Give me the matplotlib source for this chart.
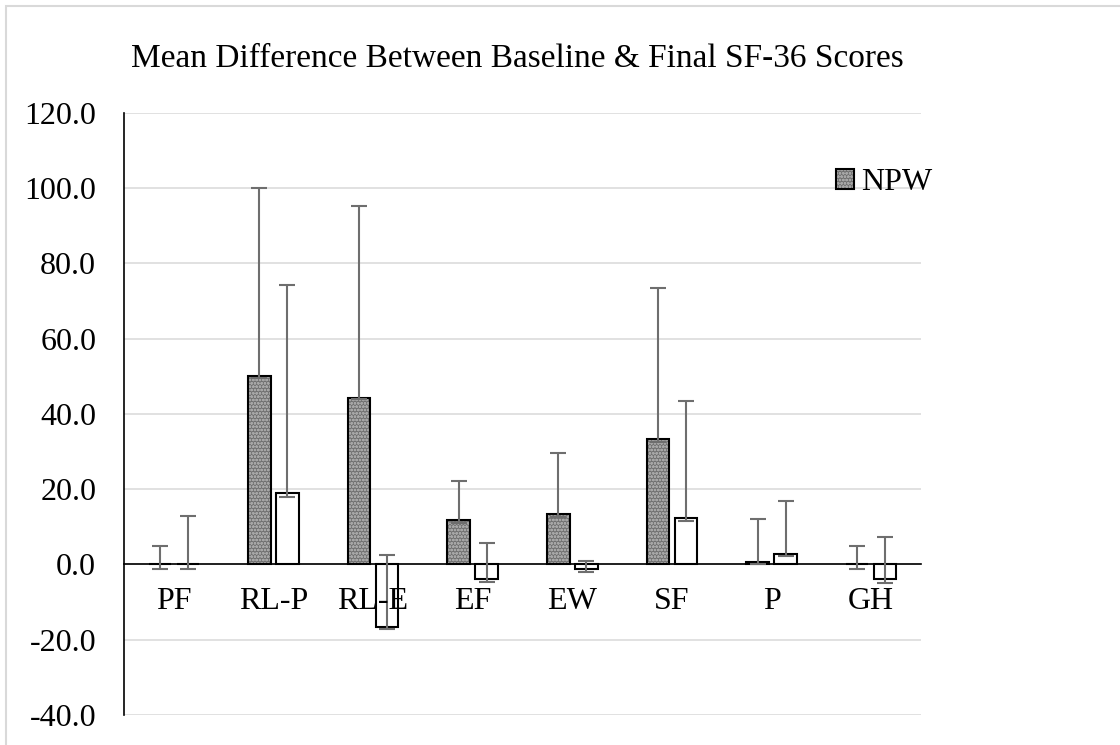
import matplotlib
matplotlib.use("Agg")
import matplotlib.pyplot as plt
import numpy as np
from matplotlib.patches import Patch, Rectangle

# ---------- Données ----------

categories = ["PF", "RL-P", "RL-E", "EF", "EW", "SF", "P", "GH"]

npw      = [0.0, 50.0, 44.3, 11.7, 13.3, 33.3, 0.7, 0.0]
npw_low  = [-1.1, 49.5, 44.0, 11.1, 12.6, 32.5, 0.2, -1.2]   # bas des barres d'erreur
npw_high = [4.8, 100.0, 95.2, 22.1, 29.5, 73.4, 12.0, 4.8]   # haut des barres d'erreur

other      = [0.0, 18.9, -16.5, -3.9, -1.1, 12.4, 2.9, -4.0]
other_low  = [-1.1, 17.9, -17.2, -4.7, -2.0, 11.6, 2.2, -4.9]
other_high = [12.8, 74.1, 2.4, 5.7, 1.0, 43.3, 16.8, 7.3]

yticks = np.arange(-40, 121, 20)

# ---------- Style ----------

plt.rcParams['font.family'] = ['Liberation Serif', 'DejaVu Serif']
plt.rcParams['axes.unicode_minus'] = False
plt.rcParams['hatch.linewidth'] = 0.8

FS = 23
err_col = "#6e6e6e"
fill_col = "#707070"
dots_col = "#a6a6a6"

fig = plt.figure(figsize=(11.2, 7.45), dpi=100)
ax = fig.add_axes([124/1120, 30/745, 797/1120, (715-112.7)/745])

# cadre gris autour du graphique
fig.patches.append(Rectangle((6/1120, -0.05), 1.1, 1 - 6/745 + 0.05, transform=fig.transFigure,
                             fill=False, edgecolor="#d9d9d9", linewidth=1.5))

x = np.arange(len(categories))
w = 0.226
off = 0.141

npw = np.array(npw)
other = np.array(other)

# série NPW : fond gris pointillé + contour noir
ax.bar(x - off, npw, w, color=fill_col, edgecolor=dots_col, hatch="ooooo", linewidth=0, zorder=2)
ax.bar(x - off, npw, w, fill=False, edgecolor="black", linewidth=1.5, zorder=3)
ax.errorbar(x - off, npw, yerr=[npw - np.array(npw_low), np.array(npw_high) - npw],
            fmt="none", ecolor=err_col, elinewidth=1.5, capsize=5.8, capthick=1.5, zorder=4)

# deuxième série : barres blanches
ax.bar(x + off, other, w, color="none", edgecolor="black", linewidth=1.5, zorder=3)
ax.errorbar(x + off, other, yerr=[other - np.array(other_low), np.array(other_high) - other],
            fmt="none", ecolor=err_col, elinewidth=1.5, capsize=5.8, capthick=1.5, zorder=4)

ax.set_xlim(-0.5, len(categories) - 0.5)
ax.set_ylim(-40, 120)
ax.set_yticks(yticks)
ax.set_yticklabels(["%.1f" % v for v in yticks], fontsize=FS)
ax.tick_params(axis="y", length=0, pad=20)
ax.set_xticks([])

ax.set_axisbelow(True)
ax.yaxis.grid(True, color="#d9d9d9", linewidth=1.1)

for s in ["top", "right"]:
    ax.spines[s].set_visible(False)
ax.spines["bottom"].set_position(("data", 0))
ax.spines["bottom"].set_linewidth(1.2)
ax.spines["left"].set_linewidth(1.2)

# étiquettes des catégories sous l'axe du zéro
for i, c in enumerate(categories):
    ax.annotate(c, (x[i], 0), xytext=(0, -16), textcoords="offset points",
                ha="center", va="top", fontsize=FS, zorder=6)

fig.text(517/1120, 1 - 67/745, "Mean Difference Between Baseline & Final SF-36 Scores",
         ha="center", va="baseline", fontsize=24)

h_fill = Patch(facecolor=fill_col, edgecolor=dots_col, hatch="ooooo", linewidth=0)
h_edge = Patch(fill=False, edgecolor="black", linewidth=1.5)
fig.legend([(h_fill, h_edge)], ["NPW"], loc="center left", bbox_to_anchor=(836/1120, 1 - 183/745),
           frameon=False, fontsize=FS, handlelength=0.55, handleheight=0.6, handletextpad=0.25,
           borderpad=0, borderaxespad=0)

plt.savefig("out.png", dpi=100)
